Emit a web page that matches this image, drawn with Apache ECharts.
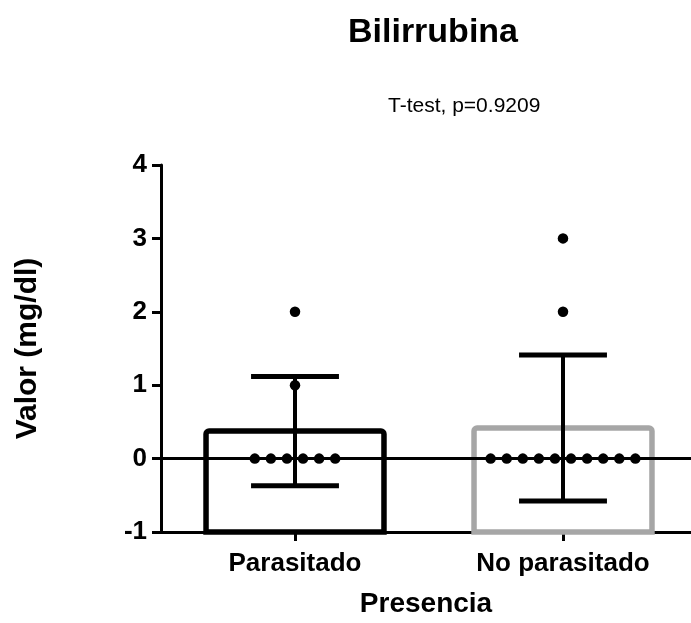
<!DOCTYPE html>
<html>
<head>
<meta charset="utf-8">
<script src="https://cdn.jsdelivr.net/npm/echarts@6/dist/echarts.min.js"></script>
<style>
  html, body { margin: 0; padding: 0; background: #fff; }
  #chart { width: 691px; height: 623px; }
</style>
</head>
<body>
<div id="chart"></div>
<script>
// ---- data ----
var categories = ['Parasitado', 'No parasitado'];
var means = [0.375, 0.417];
var sds = [0.744, 0.996];
var parasitadoValues = [2, 1, 0, 0, 0, 0, 0, 0];
var noParasitadoValues = [3, 2, 0, 0, 0, 0, 0, 0, 0, 0, 0, 0];
var yTicks = [-1, 0, 1, 2, 3, 4];

var titleText = 'Bilirrubina';
var subtitleText = 'T-test, p=0.9209';
var xName = 'Presencia';
var yName = 'Valor (mg/dl)';

// ---- build options ----
var groups = [parasitadoValues, noParasitadoValues];
var barColors = ['#000000', '#a6a6a6'];
var dotSpacing = 0.06;   // horizontal spread of identical values (column scatter)
var barHalf = 0.332;
var capHalf = 0.164;

var scatterData = [];
groups.forEach(function (vals, ci) {
  var counts = {};
  vals.forEach(function (v) { counts[v] = (counts[v] || 0) + 1; });
  Object.keys(counts).forEach(function (k) {
    var n = counts[k];
    for (var i = 0; i < n; i++) {
      scatterData.push([ci + (i - (n - 1) / 2) * dotSpacing, Number(k)]);
    }
  });
});

var barData = categories.map(function (c, i) { return [i, means[i], sds[i]]; });

var font = '"Liberation Sans", Arial, sans-serif';
var chart = echarts.init(document.getElementById('chart'), null, { renderer: 'canvas' });

chart.setOption({
  backgroundColor: '#ffffff',
  animation: false,
  title: [
    {
      text: titleText,
      left: 343, top: 11,
      textStyle: { fontFamily: font, fontSize: 34, fontWeight: 'bold', color: '#000' }
    },
    {
      text: subtitleText,
      left: 383, top: 91,
      textStyle: { fontFamily: font, fontSize: 21, fontWeight: 'normal', color: '#000' }
    }
  ],
  grid: { left: 161, right: 0, top: 165, bottom: 85, containLabel: false },
  xAxis: {
    type: 'value',
    min: -0.5,
    max: 1.4776,
    splitLine: { show: false },
    axisLine: { show: true, onZero: false, lineStyle: { color: '#000', width: 3 } },
    axisTick: { show: true, length: 9, lineStyle: { color: '#000', width: 3 }, customValues: [0, 1] },
    axisLabel: {
      customValues: [0, 1],
      margin: 19,
      formatter: function (v) { return categories[Math.round(v)]; },
      fontFamily: font, fontSize: 26, fontWeight: 'bold', color: '#000'
    },
    name: xName,
    nameLocation: 'middle',
    nameGap: 58,
    nameTextStyle: { fontFamily: font, fontSize: 28, fontWeight: 'bold', color: '#000' }
  },
  yAxis: {
    type: 'value',
    min: yTicks[0],
    max: yTicks[yTicks.length - 1],
    interval: 1,
    splitLine: { show: false },
    axisLine: { show: true, onZero: false, lineStyle: { color: '#000', width: 3 } },
    axisTick: { show: true, length: 9, lineStyle: { color: '#000', width: 3 } },
    axisLabel: { margin: 14, fontFamily: font, fontSize: 26, fontWeight: 'bold', color: '#000' },
    name: yName,
    nameLocation: 'middle',
    nameGap: 118,
    nameTextStyle: { fontFamily: font, fontSize: 30, fontWeight: 'bold', color: '#000' }
  },
  series: [
    {
      type: 'custom',
      name: 'bars',
      z: 1,
      data: barData,
      encode: { x: 0, y: 1 },
      renderItem: function (params, api) {
        var i = api.value(0), m = api.value(1);
        var p1 = api.coord([i - barHalf, m]);
        var p2 = api.coord([i + barHalf, yTicks[0]]);
        return {
          type: 'rect',
          shape: { x: p1[0], y: p1[1], width: p2[0] - p1[0], height: p2[1] - p1[1], r: [3, 3, 0, 0] },
          style: { fill: 'none', stroke: barColors[params.dataIndex], lineWidth: 5.5 }
        };
      }
    },
    {
      type: 'line',
      name: 'zero',
      z: 2,
      data: [],
      markLine: {
        silent: true,
        symbol: 'none',
        label: { show: false },
        lineStyle: { color: '#000', width: 3, type: 'solid', opacity: 1 },
        emphasis: { disabled: true },
        data: [{ yAxis: 0 }]
      }
    },
    {
      type: 'custom',
      name: 'sd',
      z: 3,
      data: barData,
      encode: { x: 0, y: 1 },
      renderItem: function (params, api) {
        var i = api.value(0), m = api.value(1), s = api.value(2);
        var top = api.coord([i, m + s]);
        var bot = api.coord([i, m - s]);
        var cl = api.coord([i - capHalf, m + s]);
        var cr = api.coord([i + capHalf, m + s]);
        var bl = api.coord([i - capHalf, m - s]);
        var br = api.coord([i + capHalf, m - s]);
        return {
          type: 'group',
          children: [
            { type: 'line', shape: { x1: top[0], y1: top[1], x2: bot[0], y2: bot[1] }, style: { stroke: '#000', lineWidth: 4 } },
            { type: 'line', shape: { x1: cl[0], y1: cl[1], x2: cr[0], y2: cr[1] }, style: { stroke: '#000', lineWidth: 5 } },
            { type: 'line', shape: { x1: bl[0], y1: bl[1], x2: br[0], y2: br[1] }, style: { stroke: '#000', lineWidth: 5 } }
          ]
        };
      }
    },
    {
      type: 'scatter',
      name: 'points',
      z: 4,
      symbol: 'circle',
      symbolSize: 10.5,
      itemStyle: { color: '#000', opacity: 1 },
      data: scatterData
    }
  ]
});
</script>
</body>
</html>
